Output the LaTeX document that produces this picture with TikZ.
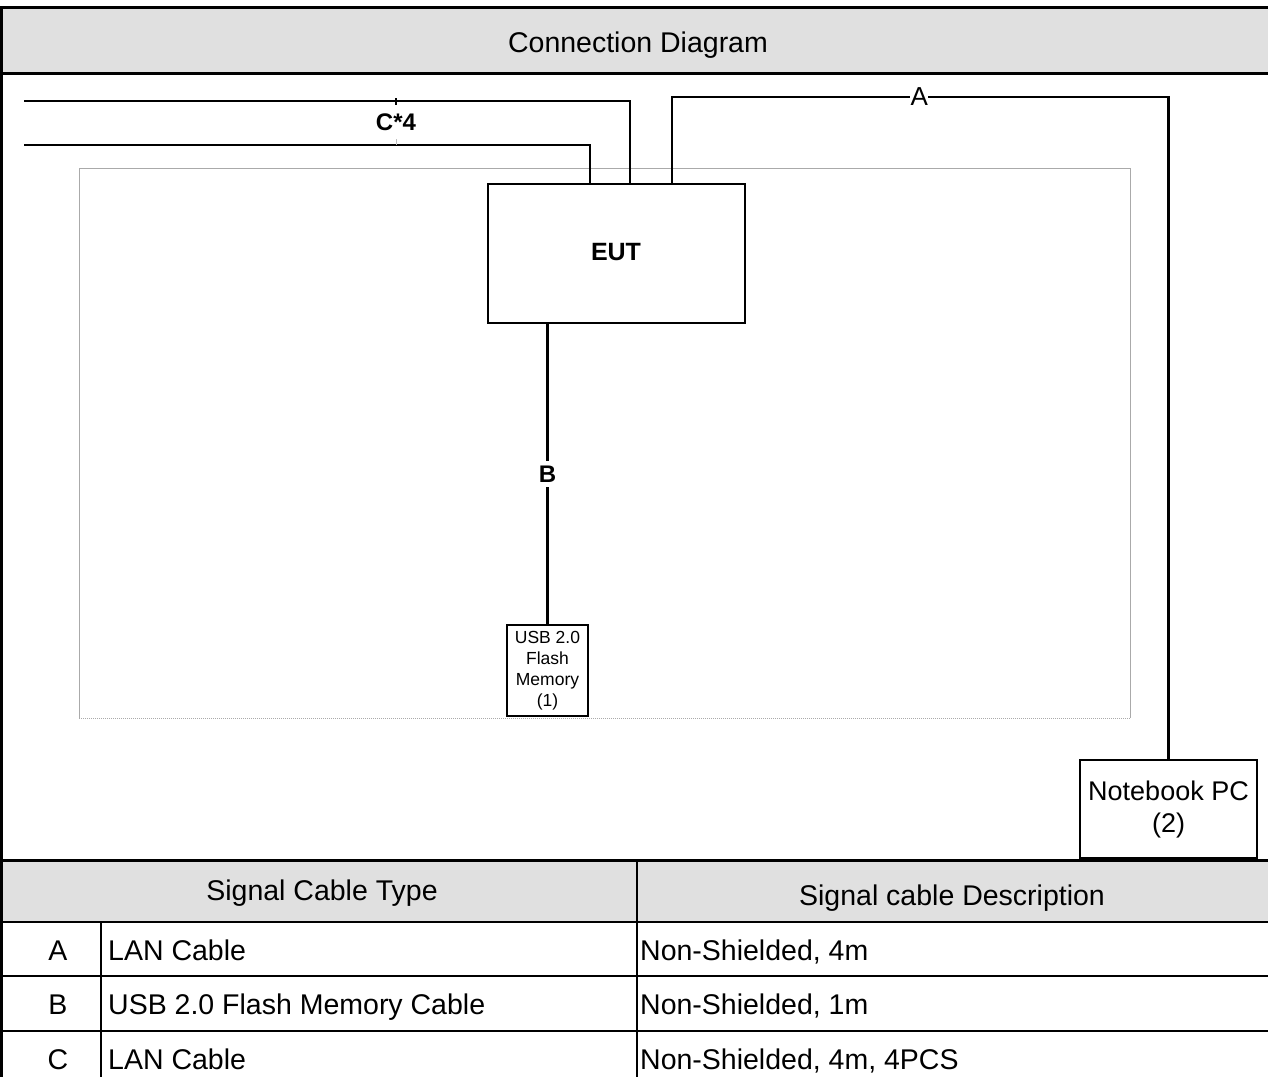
\documentclass[tikz,border=0pt]{standalone}
\usepackage{fontspec}
\setmainfont{Liberation Sans}
\usetikzlibrary{calc}
\definecolor{hdr}{RGB}{224,224,224}
\definecolor{frm}{RGB}{170,170,170}
\tikzset{
  frame/.style={line width=3pt},
  grid/.style={line width=2pt},
  cable/.style={line width=2.8pt},
  devbox/.style={draw, line width=2.6pt, fill=white, align=center, inner sep=0pt},
  lbl/.style={font=\fontsize{24}{28}\selectfont\bfseries, fill=white, inner sep=1.5pt},
  ttext/.style={font=\fontsize{28.5}{32}\selectfont, inner sep=0pt, anchor=base},
  ltext/.style={ttext, anchor=base west},
}
\begin{document}
\begin{tikzpicture}[x=1pt,y=-1pt]
\useasboundingbox (0,0) rectangle (1268,1077);
% header bands
\fill[hdr] (0,7) rectangle (1268,73);
\fill[hdr] (0,860) rectangle (1268,922);
\node[ttext] (title) at (638,52) {Connection Diagram};
% outer frame
\draw[frame] (0,7) -- (1268,7);
\draw[frame] (1.5,7) -- (1.5,1077);
\draw[frame] (0,73) -- (1268,73);
\draw[frame] (0,860) -- (1268,860);
% table grid
\draw[grid] (0,922) -- (1268,922);
\draw[grid] (0,976) -- (1268,976);
\draw[grid] (0,1031) -- (1268,1031);
\draw[grid] (637,860) -- (637,1077);
\draw[grid] (101,922) -- (101,1077);
% table texts
\node[ttext] (th1) at (322,900) {Signal Cable Type};
\node[ttext] (th2) at (952,905) {Signal cable Description};
\node[ttext] (ra) at (58,960) {A};
\node[ltext] (rat) at (108,960) {LAN Cable};
\node[ltext] (rad) at (640,960) {Non-Shielded, 4m};
\node[ttext] (rb) at (58,1014) {B};
\node[ltext] (rbt) at (108,1014) {USB 2.0 Flash Memory Cable};
\node[ltext] (rbd) at (640,1014) {Non-Shielded, 1m};
\node[ttext] (rc) at (58,1069) {C};
\node[ltext] (rct) at (108,1069) {LAN Cable};
\node[ltext] (rcd) at (640,1069) {Non-Shielded, 4m, 4PCS};
% table area (gray)
\draw[frm, line width=0.8pt] (79,718) -- (79,168) -- (1130,168) -- (1130,718);
\draw[frm, line width=1pt, densely dotted] (79,718) -- (1130,718);
% devices
\node[devbox, minimum width=257pt, minimum height=139pt] (eut) at (616.5,253.5) {};
\node[font=\fontsize{25}{28}\selectfont\bfseries] (eutl) at (616,252) {EUT};
\node[devbox, minimum width=81pt, minimum height=91pt,
      font=\fontsize{17.5}{21}\selectfont] (usb) at (547.5,670.5) {USB 2.0\\Flash\\Memory\\(1)};
\node[devbox, minimum width=177pt, minimum height=98pt,
      font=\fontsize{27}{32}\selectfont] (nb) at (1168.5,809) {Notebook PC\\(2)};
% cables C
\coordinate (c1) at (24,101);
\coordinate (c1x) at (630,0);
\coordinate (c2) at (24,145);
\coordinate (c2x) at (590,0);
\draw[cable] (c1) -| (c1x |- eut.north);
\draw[cable] (c2) -| (c2x |- eut.north);
\draw[line width=1.5pt] (396,98) -- (396,105);
\draw[gray!50, line width=1pt] (396,139) -- (396,145);
\node[font=\fontsize{24}{28}\selectfont\bfseries] (clbl) at (396,122) {C*4};
% cable A
\coordinate (ax) at (672,0);
\coordinate (ay) at (0,97);
\draw[cable] (ax |- eut.north) |- node[pos=0.749, font=\fontsize{26}{28}\selectfont, fill=white, inner sep=0.5pt] (albl) {A} (nb.north |- ay) -- (nb.north);
% cable B
\draw[cable] (usb.north |- eut.south) -- node[lbl, inner sep=5pt] (blbl) {B} (usb.north);
\end{tikzpicture}
\end{document}
